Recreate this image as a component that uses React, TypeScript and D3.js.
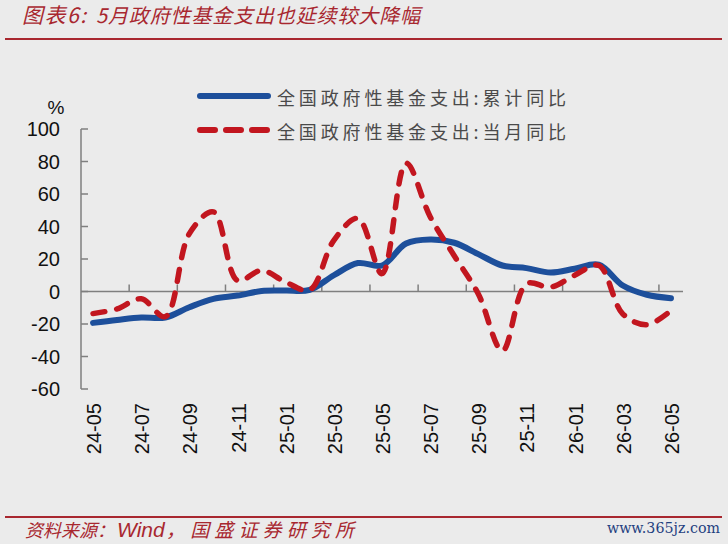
import * as d3 from 'd3';

const MONTHS = [
  '24-05', '24-06', '24-07', '24-08', '24-09', '24-10', '24-11', '24-12',
  '25-01', '25-02', '25-03', '25-04', '25-05', '25-06', '25-07', '25-08',
  '25-09', '25-10', '25-11', '25-12', '26-01', '26-02', '26-03', '26-04', '26-05',
];
// 全国政府性基金支出:累计同比 (%)
const CUMULATIVE_YOY = [
  -19.3, -17.5, -16, -16, -9.7, -4.5, -2.5, 0.3, 0.6, 1, 10, 17.5, 16,
  29.5, 32, 30, 23, 16, 14.4, 11.7, 14, 16.5, 3.7, -2, -4.1,
];
// 全国政府性基金支出:当月同比 (%)
const MONTHLY_YOY = [
  -13.6, -10.7, -4.5, -15.5, 35.6, 49, 6.8, 13, 5.8, 1, 31.5, 45, 11,
  79, 46, 22, -1.5, -36.5, 4.7, 2.7, 10, 16, -13.8, -20.4, -11.7,
];
const Y_TICKS = [-60, -40, -20, 0, 20, 40, 60, 80, 100];
const SERIES_LABELS = ['全国政府性基金支出:累计同比', '全国政府性基金支出:当月同比'];

const TITLE_HEAD = '图表6:';
const TITLE_BODY = '5月政府性基金支出也延续较大降幅';
const SOURCE_PARTS = ['资料来源：', 'Wind', '，国盛证券研究所'];
const WATERMARK = 'www.365jz.com';

const W = 728;
const H = 544;
const BG = '#ebebeb';
const BRAND_RED = '#a8272f';
const BLUE = '#1d4f9b';
const RED = '#c2161f';
const AXIS = '#7f7f7f';
const TICK_TEXT = '#111111';
const LATIN = '"Liberation Sans", Arial, sans-serif';
const CJK = '"Noto Sans CJK SC", sans-serif';

export default function App() {
  const x = d3.scaleBand<string>().domain(MONTHS).range([81, 683]);
  const cx = (m: string) => (x(m) ?? 0) + x.bandwidth() / 2;
  const y = d3.scaleLinear().domain([-60, 100]).range([389, 129]);

  const line = d3
    .line<number>()
    .x((_, i) => cx(MONTHS[i]))
    .y((v) => y(v))
    .curve(d3.curveCatmullRom.alpha(0.5));

  const boundaryTicks = MONTHS.filter((_, i) => i > 0 && i % 2 === 0);
  const labelled = MONTHS.filter((_, i) => i % 2 === 0);
  const [x0, x1] = x.range();

  return (
    <svg
      width={W}
      height={H}
      viewBox={`0 0 ${W} ${H}`}
      style={{ position: 'absolute', left: 0, top: 0, display: 'block' }}
    >
      <rect x={0} y={0} width={W} height={H} fill={BG} />

      {/* title */}
      <text x={22} y={23} fill={BRAND_RED} fontFamily={CJK} fontSize={21} fontStyle="italic" textLength={64} lengthAdjust="spacing">
        {TITLE_HEAD}
      </text>
      <text x={96} y={23} fill={BRAND_RED} fontFamily={CJK} fontSize={20} fontStyle="italic" textLength={324} lengthAdjust="spacing">
        {TITLE_BODY}
      </text>
      <line x1={5} x2={722} y1={39} y2={39} stroke={BRAND_RED} strokeWidth={2.2} />

      {/* legend */}
      <line x1={200} x2={268} y1={96} y2={96} stroke={BLUE} strokeWidth={6} strokeLinecap="round" />
      <line
        x1={200}
        x2={268}
        y1={130}
        y2={130}
        stroke={RED}
        strokeWidth={6}
        strokeLinecap="round"
        strokeDasharray="15 11"
      />
      {SERIES_LABELS.map((label, i) => (
        <text
          key={label}
          x={277}
          y={i === 0 ? 97 : 131}
          dominantBaseline="central"
          fill="#4a4a4a"
          fontFamily={CJK}
          fontSize={18}
          textLength={289}
          lengthAdjust="spacing"
        >
          {label}
        </text>
      ))}

      {/* y axis */}
      <text x={56} y={107} textAnchor="middle" dominantBaseline="central" fill={TICK_TEXT} fontFamily={LATIN} fontSize={19}>
        %
      </text>
      <line x1={x0} x2={x0} y1={y(100)} y2={y(-60)} stroke={AXIS} strokeWidth={1.5} />
      {Y_TICKS.map((t) => (
        <g key={t}>
          <line x1={x0} x2={x0 + 7} y1={y(t)} y2={y(t)} stroke={AXIS} strokeWidth={1.5} />
          <text
            x={60}
            y={y(t)}
            textAnchor="end"
            dominantBaseline="central"
            fill={TICK_TEXT}
            fontFamily={LATIN}
            fontSize={20}
          >
            {t}
          </text>
        </g>
      ))}

      {/* x axis at zero */}
      <line x1={x0} x2={x1} y1={y(0)} y2={y(0)} stroke={AXIS} strokeWidth={1.5} />
      {boundaryTicks.map((m) => (
        <line key={m} x1={x(m)} x2={x(m)} y1={y(0)} y2={y(0) - 7} stroke={AXIS} strokeWidth={1.5} />
      ))}
      {labelled.map((m) => (
        <text
          key={m}
          transform={`translate(${cx(m) + 1},403) rotate(-90)`}
          textAnchor="end"
          dominantBaseline="central"
          fill={TICK_TEXT}
          fontFamily={LATIN}
          fontSize={20}
        >
          {m}
        </text>
      ))}

      {/* series */}
      <path d={line(CUMULATIVE_YOY) ?? ''} fill="none" stroke={BLUE} strokeWidth={6} strokeLinecap="round" strokeLinejoin="round" />
      <path
        d={line(MONTHLY_YOY) ?? ''}
        fill="none"
        stroke={RED}
        strokeWidth={5.5}
        strokeLinecap="round"
        strokeLinejoin="round"
        strokeDasharray="12 12"
      />

      {/* footer */}
      <line x1={5} x2={722} y1={517} y2={517} stroke={BRAND_RED} strokeWidth={2.2} />
      <text x={25} y={537} fill={BRAND_RED} fontFamily={CJK} fontSize={18} fontStyle="italic">
        {SOURCE_PARTS[0]}
      </text>
      <text x={117} y={537} fill={BRAND_RED} fontFamily={LATIN} fontSize={21} fontStyle="italic">
        {SOURCE_PARTS[1]}
      </text>
      <text x={166} y={537} fill={BRAND_RED} fontFamily={CJK} fontSize={19} fontStyle="italic" textLength={188} lengthAdjust="spacing">
        {SOURCE_PARTS[2]}
      </text>
      <text
        x={607}
        y={533}
        fill="#1f3f80"
        fontFamily='"DejaVu Serif", serif'
        fontSize={15}
        textLength={113}
        lengthAdjust="spacingAndGlyphs"
      >
        {WATERMARK}
      </text>
    </svg>
  );
}
